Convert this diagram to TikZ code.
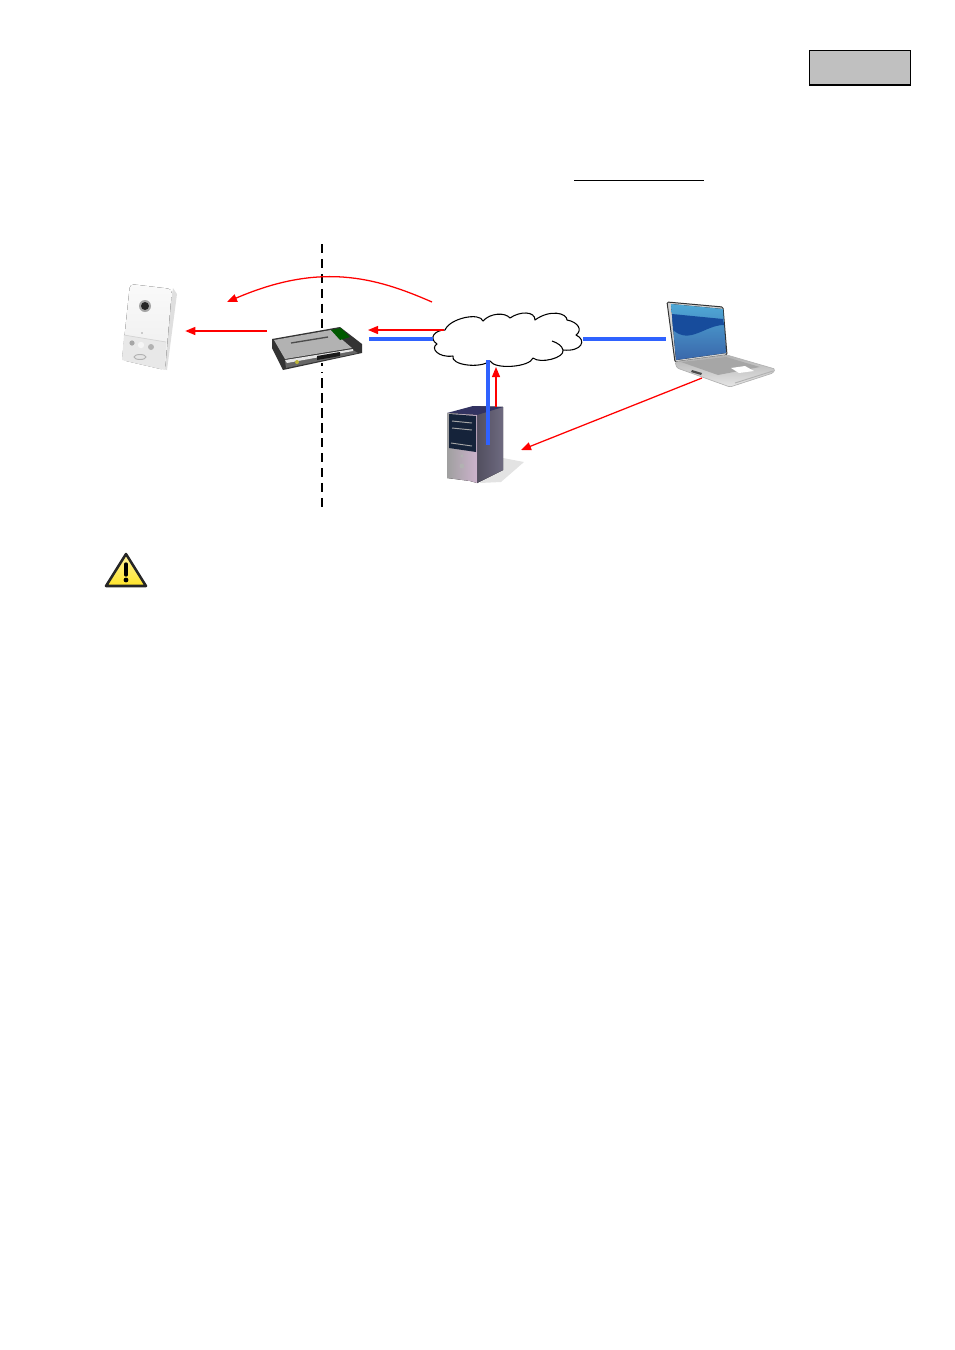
\documentclass[tikz,border=0pt]{standalone}
\usepackage{tikz}
\usetikzlibrary{shapes.symbols}
\usetikzlibrary{arrows.meta}

\definecolor{linkblue}{HTML}{2F62FF}
\definecolor{tabgray}{HTML}{C0C0C0}
\definecolor{screenblue}{HTML}{174C9C}
\definecolor{wavecyan}{HTML}{4FA8D6}
\definecolor{towerdark}{HTML}{15233A}
\definecolor{towerside}{HTML}{6E6A80}
\definecolor{signyellow}{HTML}{FFE428}

\tikzset{
    signal/.style={->, >={Triangle[length=7.5pt,width=6pt]}, red, line width=0.95pt},
    link/.style={linkblue, line width=2.4pt},
    anchorbox/.style={inner sep=0pt, minimum height=20pt},
}

\begin{document}
\begin{tikzpicture}[x=0.75pt, y=-0.75pt]
    \useasboundingbox (0,0) rectangle (954,1350);

    % Tab and underline at the top
    \node[draw=black, line width=1.2pt, fill=tabgray, minimum width=75.5pt, minimum height=26pt, inner sep=0pt] (tab) at (860,67.8) {};
    \coordinate (ruleL) at (574,180);
    \coordinate (ruleR) at (704,180);
    \draw[line width=0.75pt] (ruleL) -- (ruleR);

    % Boundary between the two networks
    \coordinate (limitT) at (322,244);
    \coordinate (limitB) at (322,507);
    \draw[line width=1.6pt, dash pattern=on 7pt off 4.2pt] (limitT) -- (limitB);

    % Anchors of the devices
    \node[anchorbox, minimum width=54pt] (camera) at (149,331) {};
    \node[anchorbox, minimum width=78pt] (router) at (317,339) {};
    \node[anchorbox, minimum width=63pt] (laptop) at (708,339) {};
    \node[anchorbox, minimum width=42pt] (server) at (475,445) {};
    \node[anchorbox, minimum width=112.5pt] (cloud) at (508,339) {};

    % Camera
    \begin{scope}
        \fill[gray!25] (173,288) -- (177,294) -- (167,370) -- (160,368) -- cycle;
        \fill[top color=gray!4, bottom color=gray!14, rounded corners=3pt] (130,284) -- (172,289) -- (165,370) -- (122,360) -- cycle;
        \fill[gray!18] (124,335) -- (166,342) -- (165,370) -- (122,360) -- cycle;
        \draw[gray!35, line width=0.5pt] (124,335) -- (166,342);
        \fill[gray!70] (145,306) circle (6);
        \fill[black!85] (145,306) circle (4);
        \fill[gray!70] (132,343) circle (2.6);
        \fill[gray!8] (141,345) circle (3.2);
        \fill[gray!60] (151,347) circle (3);
        \draw[gray!60, fill=gray!20, line width=0.7pt] (140,357) ellipse (6 and 2.5);
        \fill[gray!70] (142,333) circle (0.9);
    \end{scope}

    % Router
    \fill[white] (316,366) rectangle (328,372);
    \begin{scope}
        \fill[black!80] (272,339) -- (340,327) -- (362,344) -- (362,353) -- (283,370) -- (272,348) -- cycle;
        \fill[gray!60] (274,340) -- (331,330) -- (352,348) -- (285,359) -- cycle;
        \fill[black!60] (286,368) -- (285,361) -- (353,350) -- (358,353) -- cycle;
        \fill[gray!20] (285,360) -- (353,349) -- (353,351) -- (287,363) -- cycle;
        \fill[green!35!black] (331,330) -- (341,328) -- (350,337) -- (340,340) -- cycle;
        \draw[black!70, line width=1pt] (291,343) -- (328,337);
        \fill[black!90] (317,356) -- (340,352) -- (340,356) -- (317,360) -- cycle;
        \fill[yellow!70!black] (297,362) circle (2);
    \end{scope}

    % Server
    \begin{scope}
        \fill[gray!22] (503,458) -- (524,462) -- (501,482) -- (480,483) -- cycle;
        \fill[left color=towerside!70!black, right color=towerside] (473,406) -- (503,407) -- (503,470) -- (477,483) -- (477,415) -- cycle;
        \fill[black!70!blue!60!gray] (447,413) -- (473,406) -- (503,407) -- (477,415) -- cycle;
        \fill[left color=gray!75, right color=gray!50!violet!40] (447,413) -- (477,415) -- (477,483) -- (470,481) -- (447,478) -- cycle;
        \fill[towerdark] (449,414) -- (476,416) -- (476,452) -- (449,448) -- cycle;
        \draw[gray!70, line width=0.7pt] (452,421) -- (472,423) (452,428) -- (472,430) (451,443) -- (472,446);
        \fill[gray!60] (462,456) circle (1.6) (462,466) circle (2.4);
    \end{scope}

    % Laptop
    \begin{scope}
        \draw[black!80, fill=gray!35, line width=0.75pt, rounded corners=1pt] (667,302) -- (723,307) -- (727,355) -- (675,362) -- cycle;
        \fill[bottom color=screenblue!85!white, top color=wavecyan] (671,304) -- (723,309) -- (726,353) -- (676,360) -- cycle;
        \fill[screenblue] (672,314) -- (723,319) -- (724,325) .. controls (705,325) and (690,345) .. (673,330) -- cycle;
        \draw[gray!60, top color=gray!60, bottom color=gray!20, line width=0.5pt, rounded corners=1pt] (675,362) -- (727,355) -- (775,369) -- (773,373) -- (730,387) -- (677,368) -- cycle;
        \fill[gray!70] (681,362) -- (726,357) -- (760,367) -- (718,375) -- cycle;
        \fill[white] (731,368) -- (745,366) -- (754,371) -- (739,373) -- cycle;
        \fill[black!70] (692,370) -- (702,373) -- (701,375) -- (691,372) -- cycle;
        \draw[gray!60, line width=0.7pt] (735,383) -- (773,371);
    \end{scope}

    % Cloud outline and the links
    \draw[fill=white, line width=0.8pt, line join=round]
        (445,330) .. controls (450,318) and (480,312) .. (483,321)
        .. controls (490,313) and (505,312) .. (510,318)
        .. controls (520,311) and (535,311) .. (535,320)
        .. controls (550,309) and (567,313) .. (567,320)
        .. controls (578,322) and (583,330) .. (576,335)
        .. controls (587,340) and (582,352) .. (563,350)
        .. controls (565,358) and (540,364) .. (533,358)
        .. controls (530,367) and (495,370) .. (490,361)
        .. controls (480,369) and (450,365) .. (453,356)
        .. controls (438,358) and (430,348) .. (437,344)
        .. controls (428,338) and (435,330) .. (445,330) -- cycle;
    \draw[line width=0.8pt] (552,341) .. controls (558,343) and (562,346) .. (563,350);
    \coordinate (cloudB) at (488,360);
    \coordinate (serverB) at (488,445);
    \draw[link] (router.east) -- (cloud.west);
    \draw[link] (cloud.east) -- (laptop.west);
    \draw[link] (cloudB) -- (serverB);

    % Red signal paths
    \coordinate (archS) at (432,302);
    \coordinate (archE) at (227,302);
    \coordinate (routerL) at (267,331);
    \coordinate (routerR) at (368,330);
    \coordinate (cloudL) at (444,330);
    \coordinate (serverT) at (496,407);
    \coordinate (cloudU) at (496,367);
    \coordinate (laptopB) at (702,378);
    \coordinate (serverR) at (521,450);
    \draw[signal] (archS) .. controls (375,277) and (320,262) .. (archE);
    \draw[signal] (routerL) -- (camera.east |- routerL);
    \draw[signal] (cloudL) -- (routerR);
    \draw[signal] (serverT) -- (cloudU);
    \draw[signal] (laptopB) -- (serverR);

    % Warning sign
    \node[inner sep=0pt, minimum size=1pt] (warning) at (126,571) {};
    \begin{scope}
        \draw[black!85, line width=1.9pt, line join=round, top color=signyellow!45, bottom color=signyellow] (126,554) -- (146,586) -- (106,586) -- cycle;
        \draw[black, line width=2.5pt, line cap=round] (126,564) -- (126,575);
        \fill[black] (126,580) circle (2.4);
    \end{scope}

\end{tikzpicture}
\end{document}
